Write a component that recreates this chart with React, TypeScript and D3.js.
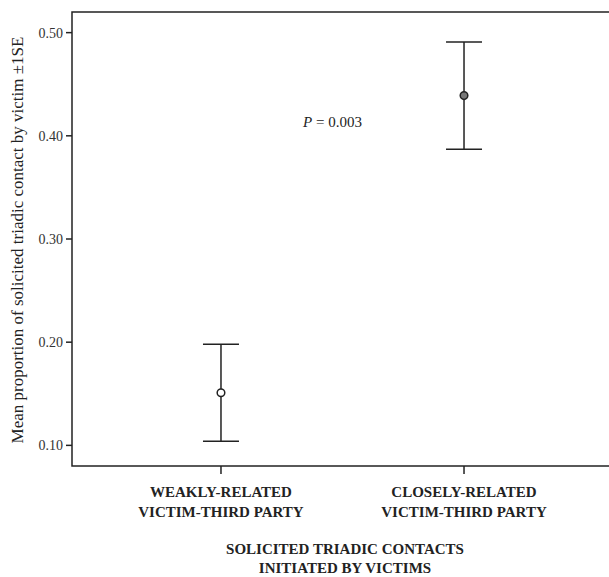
import * as d3 from 'd3'

const categories = ['WEAKLY-RELATED|VICTIM-THIRD PARTY', 'CLOSELY-RELATED|VICTIM-THIRD PARTY']
const means = [0.151, 0.439]
const se = [0.047, 0.052]
const yTicks = [0.1, 0.2, 0.3, 0.4, 0.5]
const markerFill = ['#ffffff', '#777777']

const W = 609
const H = 577
const LEFT = 72
const RIGHT = 613
const TOP = 12
const BOTTOM = 466
const INK = '#222'
const FONT = '"Liberation Serif", "Times New Roman", serif'

export default function App() {
  const y = d3.scaleLinear().domain([0.08, 0.52]).range([BOTTOM, TOP])
  const x = d3.scalePoint<string>().domain(categories).range([LEFT, RIGHT]).padding(0.613)

  return (
    <svg
      width={W}
      height={H}
      style={{ position: 'absolute', left: 0, top: 0, background: '#fff' }}
      fontFamily={FONT}
    >
      <rect width={W} height={H} fill="#fff" />

      {/* frame */}
      <rect x={LEFT} y={TOP} width={RIGHT - LEFT} height={BOTTOM - TOP} fill="none" stroke={INK} strokeWidth={1.5} />

      {/* y ticks */}
      {yTicks.map((t) => (
        <g key={t}>
          <line x1={LEFT - 6} x2={LEFT} y1={y(t)} y2={y(t)} stroke={INK} strokeWidth={1.5} />
          <text x={LEFT - 9} y={y(t)} dy="0.35em" textAnchor="end" fontSize={14} fill="#333">
            {d3.format('.2f')(t)}
          </text>
        </g>
      ))}

      {/* y title */}
      <text
        transform={`translate(23,240) rotate(-90)`}
        textAnchor="middle"
        fontSize={17}
        fill="#222"
      >
        Mean proportion of solicited triadic contact by victim ±1SE
      </text>

      {/* x ticks and labels */}
      {categories.map((c) => {
        const cx = x(c) ?? 0
        const lines = c.split('|')
        return (
          <g key={c}>
            <line x1={cx} x2={cx} y1={BOTTOM} y2={BOTTOM + 8} stroke={INK} strokeWidth={1.5} />
            {lines.map((l, i) => (
              <text key={l} x={cx} y={497 + i * 20} textAnchor="middle" fontSize={15} fontWeight={700} fill="#222">
                {l}
              </text>
            ))}
          </g>
        )
      })}

      {/* x title */}
      <text x={345} y={554} textAnchor="middle" fontSize={15} fontWeight={700} fill="#222">
        SOLICITED TRIADIC CONTACTS
      </text>
      <text x={345} y={573} textAnchor="middle" fontSize={15} fontWeight={700} fill="#222">
        INITIATED BY VICTIMS
      </text>

      {/* error bars */}
      {categories.map((c, i) => {
        const cx = x(c) ?? 0
        const hi = y(means[i] + se[i])
        const lo = y(means[i] - se[i])
        return (
          <g key={c} stroke={INK} strokeWidth={1.5}>
            <line x1={cx} x2={cx} y1={hi} y2={lo} />
            <line x1={cx - 18} x2={cx + 18} y1={hi} y2={hi} />
            <line x1={cx - 18} x2={cx + 18} y1={lo} y2={lo} />
            <circle cx={cx} cy={y(means[i])} r={3.8} fill={markerFill[i]} strokeWidth={1.5} />
          </g>
        )
      })}

      {/* p value */}
      <text x={303} y={127} fontSize={15} fill="#222">
        <tspan fontStyle="italic">P</tspan> = 0.003
      </text>
    </svg>
  )
}
